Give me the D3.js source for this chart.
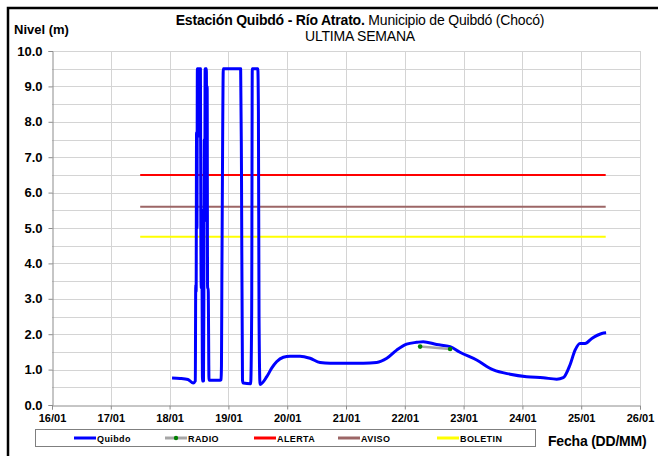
<!DOCTYPE html>
<html>
<head>
<meta charset="utf-8">
<script src="https://cdn.jsdelivr.net/npm/d3@7/dist/d3.min.js"></script>
<style>
  html, body { margin: 0; padding: 0; background: #fff; }
  svg { display: block; font-family: "Liberation Sans", Arial, sans-serif; }
</style>
</head>
<body>
<svg id="chart" width="658" height="456"></svg>
<script>
// Water level at Quibdó station (Río Atrato), last week
const times = [
  "18/01 01:00","18/01 04:15","18/01 07:30","18/01 09:40","18/01 10:30","18/01 10:40","18/01 10:50","18/01 11:00",
  "18/01 11:10","18/01 11:20","18/01 11:50","18/01 12:00","18/01 12:10","18/01 12:35","18/01 12:45","18/01 12:55",
  "18/01 13:05","18/01 13:15","18/01 13:25","18/01 13:50","18/01 14:00","18/01 14:10","18/01 14:20","18/01 14:30",
  "18/01 15:00","18/01 15:10","18/01 15:20","18/01 15:30","18/01 15:45","18/01 16:05",
  "18/01 20:35","18/01 21:00","18/01 21:10","18/01 21:20","18/01 21:40","18/01 21:55","19/01 05:00","19/01 05:20",
  "19/01 05:45","19/01 06:05","19/01 09:05","19/01 09:30","19/01 09:45","19/01 12:00","19/01 12:15","19/01 12:30",
  "19/01 12:55","19/01 15:40","19/01 17:40","19/01 19:40","19/01 22:25","20/01 01:10","20/01 05:15","20/01 09:20",
  "20/01 13:25","20/01 17:30","21/01 01:40","21/01 07:05","21/01 12:30","21/01 16:40","21/01 20:40","22/01 00:45",
  "22/01 04:50","22/01 07:30","22/01 13:00","22/01 18:30","22/01 22:30","23/01 05:20","23/01 12:10","23/01 19:00",
  "24/01 01:45","24/01 08:30","24/01 14:00","24/01 16:40","24/01 19:25","24/01 21:30","24/01 23:30","25/01 01:35",
  "25/01 04:20","25/01 08:25","25/01 10:10"
];
const levels = [
  0.76, 0.75, 0.72, 0.62, 0.68, 3.4, 3.2, 7.7,
  5.0, 9.5, 9.5, 7.6, 9.5, 9.5, 5.0, 3.3,
  5.5, 3.3, 0.68, 0.68, 3.3, 7.5, 5.2, 9.5,
  9.5, 7.3, 9.0, 3.3, 3.3, 0.7,
  0.7, 0.72, 1.1, 3.5, 7.7, 9.5, 9.5, 6.7,
  0.7, 0.62, 0.6, 2.6, 9.5, 9.5, 8.3, 2.5,
  0.58, 0.8, 1.04, 1.22, 1.35, 1.38, 1.38, 1.32,
  1.2, 1.18, 1.18, 1.18, 1.2, 1.32, 1.55, 1.72,
  1.77, 1.79, 1.71, 1.65, 1.49, 1.27, 0.99, 0.87,
  0.8, 0.77, 0.73, 0.77, 1.13, 1.55, 1.74, 1.74,
  1.88, 2.02, 2.04
];

// Radio reports
const radioTimes = ["22/01 06:15", "22/01 18:30"];
const radioLevels = [1.65, 1.58];

// Warning thresholds (m) and the period they are drawn over
const thresholdNames = ["ALERTA", "AVISO", "BOLETIN"];
const thresholdValues = [6.5, 5.6, 4.75];
const thresholdColors = ["#ff0000", "#9c6666", "#ffff00"];
const thresholdSpan = ["17/01 12:00", "25/01 10:00"];

// Axis ticks
const dayTicks = ["16/01","17/01","18/01","19/01","20/01","21/01","22/01","23/01","24/01","25/01","26/01"];
const levelTicks = [0,1,2,3,4,5,6,7,8,9,10];

const parse = d3.timeParse("%d/%m %H:%M");
const parseDay = d3.timeParse("%d/%m");

const svg = d3.select("#chart");
const W = 658, H = 456;
const plot = { left: 52, right: 640, top: 51, bottom: 405 };

const x = d3.scaleTime()
  .domain([parseDay("16/01"), parseDay("26/01")])
  .range([plot.left, plot.right]);
const y = d3.scaleLinear().domain([0, 10]).range([plot.bottom, plot.top]);

// chart frame
svg.append("rect")
  .attr("x", 8).attr("y", 8).attr("width", W + 20).attr("height", H + 20)
  .attr("fill", "#fff").attr("stroke", "#000").attr("stroke-width", 2.5);

// grid
const grid = svg.append("g").attr("stroke", "#d4d4d4").attr("stroke-width", 1);
grid.selectAll("line.h")
  .data(d3.range(0.5, 10.01, 0.5))
  .join("line")
  .attr("x1", plot.left).attr("x2", plot.right)
  .attr("y1", d => Math.round(y(d)) + 0.5).attr("y2", d => Math.round(y(d)) + 0.5);
grid.selectAll("line.v")
  .data(dayTicks.slice(1))
  .join("line")
  .attr("x1", d => Math.round(x(parseDay(d))) + 0.5).attr("x2", d => Math.round(x(parseDay(d))) + 0.5)
  .attr("y1", plot.top).attr("y2", plot.bottom);

// axes
const yAxis = svg.append("g")
  .attr("transform", `translate(${plot.left + 0.5},0)`)
  .call(d3.axisLeft(y).tickValues(levelTicks).tickFormat(d3.format(".1f")).tickSize(4).tickPadding(6));
const xAxis = svg.append("g")
  .attr("transform", `translate(0,${plot.bottom + 0.5})`)
  .call(d3.axisBottom(x).tickValues(dayTicks.map(d => parseDay(d))).tickFormat(d3.timeFormat("%d/%m")).tickSize(4).tickPadding(5));
[yAxis, xAxis].forEach(a => {
  a.select(".domain").attr("stroke", "#8c8c8c");
  a.selectAll(".tick line").attr("stroke", "#8c8c8c");
  a.selectAll("text").attr("fill", "#000").attr("font-weight", "bold")
    .attr("font-family", "'Liberation Sans', Arial, sans-serif");
});
yAxis.selectAll("text").attr("font-size", 13);
xAxis.selectAll("text").attr("font-size", 11);

// threshold lines
thresholdValues.forEach((v, i) => {
  svg.append("line")
    .attr("x1", x(parse(thresholdSpan[0]))).attr("x2", x(parse(thresholdSpan[1])))
    .attr("y1", y(v)).attr("y2", y(v))
    .attr("stroke", thresholdColors[i]).attr("stroke-width", 2);
});

// level series
const series = times.map((t, i) => [parse(t), levels[i]]);
svg.append("path")
  .datum(series)
  .attr("fill", "none").attr("stroke", "#0000ff").attr("stroke-width", 3)
  .attr("stroke-linejoin", "round")
  .attr("d", d3.line().x(d => x(d[0])).y(d => y(d[1])).curve(d3.curveMonotoneX));

// radio reports
const radio = radioTimes.map((t, i) => [parse(t), radioLevels[i]]);
svg.append("path")
  .datum(radio)
  .attr("fill", "none").attr("stroke", "#a6a6a6").attr("stroke-width", 2.5)
  .attr("d", d3.line().x(d => x(d[0])).y(d => y(d[1])));
svg.selectAll("circle.radio")
  .data(radio).join("circle")
  .attr("cx", d => x(d[0])).attr("cy", d => y(d[1])).attr("r", 2.3)
  .attr("fill", "#008000");

// titles
const title = svg.append("text").attr("x", 360).attr("y", 25).attr("text-anchor", "middle")
  .attr("font-size", 14).attr("letter-spacing", -0.2);
title.append("tspan").attr("font-weight", "bold").text("Estación Quibdó - Río Atrato.");
title.append("tspan").text(" Municipio de Quibdó (Chocó)");
svg.append("text").attr("x", 360).attr("y", 41).attr("text-anchor", "middle")
  .attr("font-size", 14).attr("letter-spacing", -0.2).text("ULTIMA SEMANA");
svg.append("text").attr("x", 14).attr("y", 34).attr("font-size", 13).attr("font-weight", "bold")
  .text("Nivel (m)");
svg.append("text").attr("x", 548).attr("y", 446).attr("font-size", 14).attr("font-weight", "bold")
  .attr("letter-spacing", -0.2).text("Fecha (DD/MM)");

// legend
const legend = svg.append("g");
legend.append("rect").attr("x", 35.5).attr("y", 429.5).attr("width", 500).attr("height", 17)
  .attr("fill", "#fff").attr("stroke", "#7f7f7f").attr("stroke-width", 1);
const legendItems = [
  { name: "Quibdo", color: "#0000ff", x: 74, marker: false },
  { name: "RADIO", color: "#a6a6a6", x: 165, marker: true },
  { name: thresholdNames[0], color: thresholdColors[0], x: 254, marker: false },
  { name: thresholdNames[1], color: thresholdColors[1], x: 338, marker: false },
  { name: thresholdNames[2], color: thresholdColors[2], x: 437, marker: false }
];
legendItems.forEach(it => {
  legend.append("line").attr("x1", it.x).attr("x2", it.x + 22).attr("y1", 438).attr("y2", 438)
    .attr("stroke", it.color).attr("stroke-width", 3);
  if (it.marker) legend.append("circle").attr("cx", it.x + 11).attr("cy", 438).attr("r", 2.2).attr("fill", "#008000");
  legend.append("text").attr("x", it.x + 23).attr("y", 441.5).attr("font-size", 9).attr("font-weight", "bold")
    .attr("letter-spacing", 0.4).text(it.name);
});
</script>
</body>
</html>
